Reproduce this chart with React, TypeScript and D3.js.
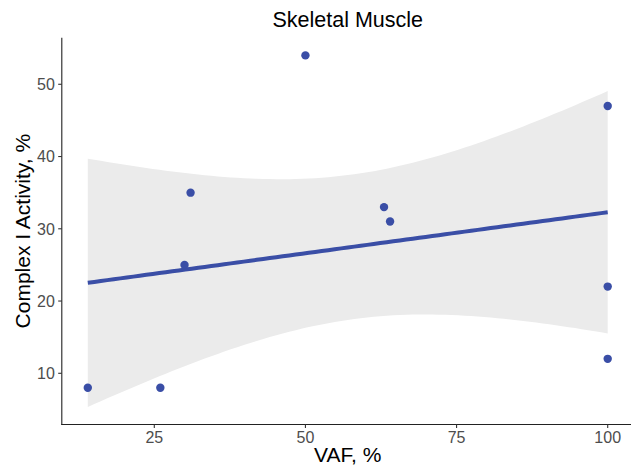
import React from 'react';
import * as d3 from 'd3';

// VAF (%) vs Complex I activity (%)
const vaf = [14, 26, 30, 31, 50, 63, 64, 100, 100, 100];
const complexI = [8, 8, 25, 35, 54, 33, 31, 47, 22, 12];
const xTicks = [25, 50, 75, 100];
const yTicks = [10, 20, 30, 40, 50];

const W = 631;
const H = 465;
const POINT = '#3A4EA6';

// ordinary least squares + pointwise confidence band (as geom_smooth(method = "lm"))
function fitLm(xs: number[], ys: number[]) {
  const n = xs.length;
  const mx = d3.mean(xs)!;
  const my = d3.mean(ys)!;
  const sxx = d3.sum(xs, x => (x - mx) ** 2);
  const sxy = d3.sum(xs.map((x, i) => (x - mx) * (ys[i] - my)));
  const slope = sxy / sxx;
  const icpt = my - slope * mx;
  const sse = d3.sum(xs.map((x, i) => (ys[i] - icpt - slope * x) ** 2));
  const s = Math.sqrt(sse / (n - 2));
  const q = 1.96;
  const at = (x: number) => {
    const fit = icpt + slope * x;
    const se = s * Math.sqrt(1 / n + (x - mx) ** 2 / sxx);
    return { x, fit, lo: fit - q * se, hi: fit + q * se };
  };
  return at;
}

export default function App() {
  const model = fitLm(vaf, complexI);
  const [x0, x1] = d3.extent(vaf) as [number, number];
  const band = d3.range(0, 81).map(i => model(x0 + ((x1 - x0) * i) / 80));

  const yLo = Math.min(d3.min(band, d => d.lo)!, d3.min(complexI)!);
  const yHi = Math.max(d3.max(band, d => d.hi)!, d3.max(complexI)!);
  const xPad = (x1 - x0) * 0.05;
  const yPad = (yHi - yLo) * 0.05;

  const x = d3.scaleLinear().domain([x0 - xPad, x1 + xPad]).range([61.8, 633.7]);
  const y = d3.scaleLinear().domain([yLo - yPad, yHi + yPad]).range([424.5, 37.8]);

  const area = d3.area<{ x: number; lo: number; hi: number }>()
    .x(d => x(d.x))
    .y0(d => y(d.lo))
    .y1(d => y(d.hi));
  const line = d3.line<{ x: number; fit: number }>()
    .x(d => x(d.x))
    .y(d => y(d.fit));

  const left = x.range()[0];
  const bottom = y.range()[0];
  const font = 'Liberation Sans, Arial, Helvetica, sans-serif';

  return (
    <div style={{ position: 'absolute', left: 0, top: 0 }}>
      <svg width={W} height={H} style={{ display: 'block', background: '#fff' }} fontFamily={font}>
        <path d={area(band) || ''} fill="#EBEBEB" />
        <path d={line(band) || ''} fill="none" stroke={POINT} strokeWidth={4} />
        {vaf.map((v, i) => (
          <circle key={i} cx={x(v)} cy={y(complexI[i])} r={4.2} fill={POINT} />
        ))}

        {/* axes */}
        <line x1={left} x2={left} y1={y.range()[1]} y2={bottom + 0.5} stroke="#222" strokeWidth={1.1} />
        <line x1={left - 0.5} x2={W} y1={bottom} y2={bottom} stroke="#222" strokeWidth={1.1} />
        {yTicks.map(t => (
          <g key={t}>
            <line x1={left - 3.6} x2={left} y1={y(t)} y2={y(t)} stroke="#333" strokeWidth={1.1} />
            <text x={left - 7} y={y(t)} dy="0.36em" textAnchor="end" fontSize={16} fill="#4D4D4D">{t}</text>
          </g>
        ))}
        {xTicks.map(t => (
          <g key={t}>
            <line x1={x(t)} x2={x(t)} y1={bottom} y2={bottom + 3.6} stroke="#333" strokeWidth={1.1} />
            <text x={x(t)} y={442.8} textAnchor="middle" fontSize={16} fill="#4D4D4D">{t}</text>
          </g>
        ))}

        <text x={(left + x.range()[1]) / 2} y={26.7} textAnchor="middle" fontSize={21.5} fill="#000">Skeletal Muscle</text>
        <text x={(left + x.range()[1]) / 2} y={462} textAnchor="middle" fontSize={21} fill="#000">VAF, %</text>
        <text
          transform={`translate(29.5, ${(y.range()[0] + y.range()[1]) / 2}) rotate(-90)`}
          textAnchor="middle"
          fontSize={21}
          fill="#000"
        >
          Complex I Activity, %
        </text>
      </svg>
    </div>
  );
}
